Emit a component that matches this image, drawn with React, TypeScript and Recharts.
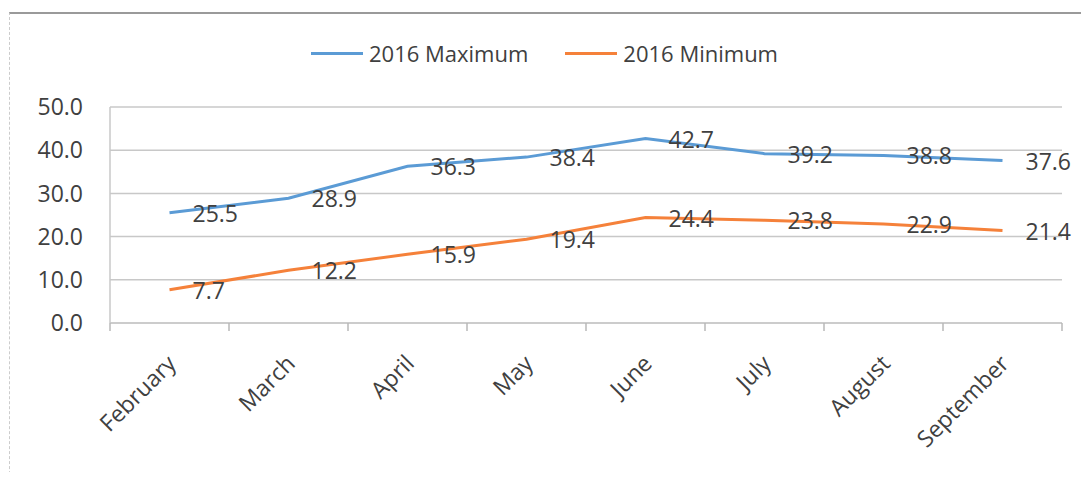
import React from 'react';
import { LineChart, Line, XAxis, YAxis, CartesianGrid } from 'recharts';

// chart values
const months = ['February', 'March', 'April', 'May', 'June', 'July', 'August', 'September'];
const maxTemps = [25.5, 28.9, 36.3, 38.4, 42.7, 39.2, 38.8, 37.6];
const minTemps = [7.7, 12.2, 15.9, 19.4, 24.4, 23.8, 22.9, 21.4];
const yTicks = [0, 10, 20, 30, 40, 50];
const seriesKeys = ['max', 'min'];
const seriesNames = ['2016 Maximum', '2016 Minimum'];
const seriesColors = ['#5b9bd5', '#f5813a'];

const data = months.map((m, i) => ({ month: m, max: maxTemps[i], min: minTemps[i] }));

const FONT = "'Open Sans', sans-serif";
const TEXT = '#404040';
const GRID = '#c8c8c8';
const FS = 23;

// month label, rotated, plus the small marks at the category edges
const MonthTick = (props: any) => {
  const { x, y, payload, index, visibleTicksCount, width } = props;
  const count = visibleTicksCount || months.length;
  const half = payload && payload.offset > 0 ? payload.offset : width / count / 2;
  const tx = x + 8;
  const ty = y + 42;
  return (
    <g>
      <line x1={x - half} y1={y} x2={x - half} y2={y + 8} stroke="#b8b8b8" strokeWidth={1.5} />
      {index === count - 1 && (
        <line x1={x + half} y1={y} x2={x + half} y2={y + 8} stroke="#b8b8b8" strokeWidth={1.5} />
      )}
      <text
        x={tx}
        y={ty}
        transform={`rotate(-45, ${tx}, ${ty})`}
        textAnchor="end"
        fontFamily={FONT}
        fontSize={FS}
        fill={TEXT}
      >
        {payload.value}
      </text>
    </g>
  );
};

const ValueLabel = (props: any) => {
  const x = props.x ?? props.viewBox?.x;
  const y = props.y ?? props.viewBox?.y;
  if (x == null || y == null || props.value == null) return null;
  return (
    <text
      x={x + 23}
      y={y}
      dominantBaseline="central"
      textAnchor="start"
      fontFamily={FONT}
      fontSize={FS}
      fill={TEXT}
    >
      {Number(props.value).toFixed(1)}
    </text>
  );
};

export default function App() {
  return (
    <div
      style={{
        position: 'relative',
        width: 1089,
        height: 480,
        margin: -8,
        overflow: 'hidden',
        background: '#fff',
        fontFamily: FONT,
      }}
    >
      {/* frame of the chart, only top and left edges show */}
      <div
        style={{
          position: 'absolute',
          left: 9,
          top: 12,
          width: 1100,
          height: 500,
          borderTop: '2px solid #9a9a9a',
          borderLeft: '1px dashed #cccccc',
        }}
      />

      {/* legend */}
      <div
        style={{
          position: 'absolute',
          top: 38,
          left: 0,
          width: 1089,
          display: 'flex',
          justifyContent: 'center',
          gap: 37,
          fontSize: 22,
          color: TEXT,
          lineHeight: '30px',
        }}
      >
        {seriesNames.map((name, i) => (
          <div key={name} style={{ display: 'flex', alignItems: 'center' }}>
            <span
              style={{ display: 'inline-block', width: 52, height: 3, background: seriesColors[i], marginRight: 6 }}
            />
            <span>{name}</span>
          </div>
        ))}
      </div>

      <div style={{ position: 'absolute', left: 0, top: 0 }}>
        <LineChart width={1089} height={480} data={data} margin={{ top: 107, right: 27, bottom: 37, left: 10 }}>
          <CartesianGrid vertical={false} stroke={GRID} strokeWidth={1.5} />
          <XAxis
            dataKey="month"
            scale="band"
            height={120}
            axisLine={{ stroke: GRID, strokeWidth: 1.5 }}
            tickLine={false}
            tickSize={0}
            tickMargin={0}
            interval={0}
            tick={<MonthTick />}
          />
          <YAxis
            domain={[0, 50]}
            ticks={yTicks}
            width={100}
            axisLine={{ stroke: GRID, strokeWidth: 1.5 }}
            tickLine={false}
            tickSize={0}
            tickMargin={27}
            tickFormatter={(v: number) => v.toFixed(1)}
            tick={{ fontFamily: FONT, fontSize: FS, fill: TEXT }}
          />
          {seriesKeys.map((k, i) => (
            <Line
              key={k}
              type="linear"
              dataKey={k}
              name={seriesNames[i]}
              stroke={seriesColors[i]}
              strokeWidth={3}
              dot={false}
              activeDot={false}
              isAnimationActive={false}
              label={<ValueLabel />}
            />
          ))}
        </LineChart>
      </div>
    </div>
  );
}
